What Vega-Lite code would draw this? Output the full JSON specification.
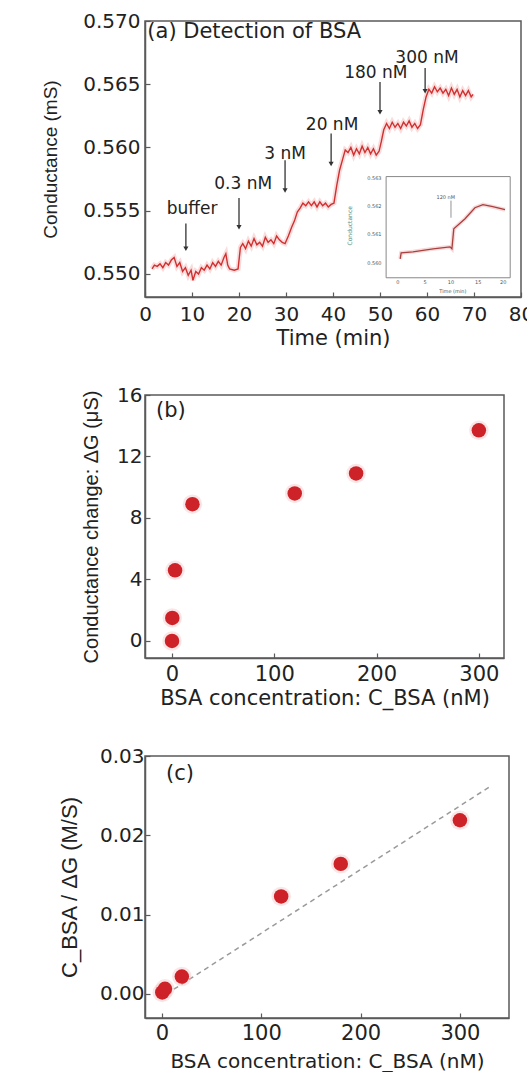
{
  "$schema": "https://vega.github.io/schema/vega-lite/v6.json",
  "background": "white",
  "padding": {"left": 40, "top": 10, "right": 0, "bottom": 0},
  "spacing": 98,
  "bounds": "flush",
  "config": {
    "font": "DejaVu Sans",
    "view": {"stroke": "#5a5a5a", "strokeWidth": 1.5},
    "axis": {
      "grid": false,
      "labelFont": "DejaVu Sans",
      "titleFont": "DejaVu Sans",
      "labelColor": "#222",
      "titleColor": "#222",
      "titleFontWeight": "normal",
      "domainColor": "#5a5a5a",
      "domainWidth": 1.5,
      "tickColor": "#5a5a5a",
      "tickWidth": 1.2,
      "tickSize": -5,
      "labelFlush": false,
      "labelOverlap": false,
      "labelBound": false
    }
  },
  "datasets": {
    "trace": [
      {"t":1.5,"v":0.5504},{"t":2.0,"v":0.5507},{"t":2.6,"v":0.5506},{"t":3.2,"v":0.5508},{"t":3.8,"v":0.5505},
      {"t":4.4,"v":0.5509},{"t":5.0,"v":0.5507},{"t":5.6,"v":0.5511},{"t":6.2,"v":0.5513},{"t":6.8,"v":0.5506},
      {"t":7.4,"v":0.5509},{"t":8.0,"v":0.5502},{"t":8.6,"v":0.5505},{"t":9.2,"v":0.5499},{"t":9.8,"v":0.5503},
      {"t":10.2,"v":0.5495},{"t":10.8,"v":0.5502},{"t":11.4,"v":0.5500},{"t":12.0,"v":0.5505},{"t":12.6,"v":0.5503},
      {"t":13.2,"v":0.5507},{"t":13.8,"v":0.5504},{"t":14.4,"v":0.5509},{"t":15.0,"v":0.5506},{"t":15.6,"v":0.5510},
      {"t":16.2,"v":0.5507},{"t":16.8,"v":0.5513},{"t":17.2,"v":0.5516},{"t":17.6,"v":0.5507},{"t":18.0,"v":0.5504},
      {"t":19.0,"v":0.5503},{"t":19.8,"v":0.5504},{"t":20.3,"v":0.5521},{"t":20.8,"v":0.5524},{"t":21.4,"v":0.5520},
      {"t":22.0,"v":0.5526},{"t":22.6,"v":0.5522},{"t":23.2,"v":0.5528},{"t":23.8,"v":0.5523},{"t":24.4,"v":0.5525},
      {"t":25.0,"v":0.5522},{"t":25.6,"v":0.5529},{"t":26.2,"v":0.5525},{"t":26.8,"v":0.5527},{"t":27.4,"v":0.5524},
      {"t":28.0,"v":0.5530},{"t":28.6,"v":0.5527},{"t":29.2,"v":0.5525},{"t":29.8,"v":0.5524},{"t":30.5,"v":0.5530},
      {"t":31.2,"v":0.5537},{"t":31.8,"v":0.5542},{"t":32.4,"v":0.5549},{"t":33.0,"v":0.5552},{"t":33.6,"v":0.5556},
      {"t":34.2,"v":0.5554},{"t":34.8,"v":0.5557},{"t":35.4,"v":0.5554},{"t":36.0,"v":0.5557},{"t":36.6,"v":0.5553},
      {"t":37.2,"v":0.5557},{"t":37.8,"v":0.5554},{"t":38.4,"v":0.5556},{"t":39.0,"v":0.5553},{"t":39.6,"v":0.5555},
      {"t":40.2,"v":0.5556},{"t":40.8,"v":0.5570},{"t":41.4,"v":0.5582},{"t":42.0,"v":0.5590},{"t":42.6,"v":0.5598},
      {"t":43.2,"v":0.5596},{"t":43.8,"v":0.5600},{"t":44.4,"v":0.5594},{"t":45.0,"v":0.5599},{"t":45.6,"v":0.5595},
      {"t":46.2,"v":0.5601},{"t":46.8,"v":0.5596},{"t":47.4,"v":0.5600},{"t":48.0,"v":0.5595},{"t":48.6,"v":0.5599},
      {"t":49.2,"v":0.5594},{"t":49.8,"v":0.5597},{"t":50.3,"v":0.5605},{"t":50.8,"v":0.5614},{"t":51.4,"v":0.5619},
      {"t":52.0,"v":0.5615},{"t":52.6,"v":0.5620},{"t":53.2,"v":0.5616},{"t":53.8,"v":0.5619},{"t":54.4,"v":0.5615},
      {"t":55.0,"v":0.5620},{"t":55.6,"v":0.5617},{"t":56.2,"v":0.5621},{"t":56.8,"v":0.5616},{"t":57.4,"v":0.5619},
      {"t":58.0,"v":0.5615},{"t":58.6,"v":0.5618},{"t":59.2,"v":0.5630},{"t":59.8,"v":0.5640},{"t":60.4,"v":0.5646},
      {"t":61.0,"v":0.5643},{"t":61.6,"v":0.5648},{"t":62.2,"v":0.5644},{"t":62.8,"v":0.5647},{"t":63.4,"v":0.5643},
      {"t":64.0,"v":0.5646},{"t":64.6,"v":0.5641},{"t":65.2,"v":0.5647},{"t":65.8,"v":0.5642},{"t":66.4,"v":0.5646},
      {"t":67.0,"v":0.5640},{"t":67.6,"v":0.5645},{"t":68.2,"v":0.5641},{"t":68.8,"v":0.5645},{"t":69.4,"v":0.5640},
      {"t":69.8,"v":0.5642}
    ],
    "arrows": [
      {"t":8.7,"v":0.5540,"v2":0.5520},
      {"t":20.0,"v":0.5560,"v2":0.5537},
      {"t":29.8,"v":0.5590,"v2":0.5566},
      {"t":39.6,"v":0.5611,"v2":0.5587},
      {"t":50.0,"v":0.56517,"v2":0.56278},
      {"t":59.6,"v":0.56628,"v2":0.56445}
    ],
    "heads": [
      {"t":8.7,"v":0.5520},{"t":20.0,"v":0.5537},{"t":29.8,"v":0.5566},
      {"t":39.6,"v":0.5587},{"t":50.0,"v":0.56278},{"t":59.6,"v":0.56445}
    ],
    "alabels": [
      {"t":10.0,"v":0.55516,"label":"buffer"},
      {"t":20.9,"v":0.55715,"label":"0.3 nM"},
      {"t":29.8,"v":0.55945,"label":"3 nM"},
      {"t":39.8,"v":0.56175,"label":"20 nM"},
      {"t":49.1,"v":0.56586,"label":"180 nM"},
      {"t":60.0,"v":0.56705,"label":"300 nM"}
    ],
    "atitle": [{"t":0.5,"v":0.56913,"label":"(a) Detection of BSA"}],
    "inset_frame": [{"t":51.3,"t2":77.7,"v":0.5497,"v2":0.5577}],
    "inset_curve": [
      {"t":54.3,"v":0.55119},{"t":54.5,"v":0.55167},{"t":57.0,"v":0.55175},{"t":61.3,"v":0.55199},
      {"t":64.9,"v":0.55214},{"t":65.3,"v":0.55199},{"t":65.7,"v":0.55357},{"t":68.1,"v":0.55437},
      {"t":70.2,"v":0.55524},{"t":71.9,"v":0.55548},{"t":74.0,"v":0.55532},{"t":76.6,"v":0.55508}
    ],
    "inset_arrow": [{"t":65.1,"v":0.55580,"v2":0.55445}],
    "inset_text": [
      {"t":64.0,"v":0.55610,"label":"120 nM"},
      {"t":53.8,"v":0.54935,"label":"0"},
      {"t":59.6,"v":0.54935,"label":"5"},
      {"t":65.1,"v":0.54935,"label":"10"},
      {"t":70.9,"v":0.54935,"label":"15"},
      {"t":76.2,"v":0.54935,"label":"20"},
      {"t":65.5,"v":0.54868,"label":"Time (min)"},
      {"t":48.8,"v":0.55762,"label":"0.563"},
      {"t":48.8,"v":0.55540,"label":"0.562"},
      {"t":48.8,"v":0.55318,"label":"0.561"},
      {"t":48.8,"v":0.55087,"label":"0.560"}
    ],
    "inset_ytitle": [{"t":43.6,"v":0.55381,"label":"Conductance"}],
    "bpoints": [
      {"c":0,"g":0.0},{"c":0.3,"g":1.5},{"c":3,"g":4.6},{"c":20,"g":8.9},
      {"c":120,"g":9.6},{"c":180,"g":10.9},{"c":300,"g":13.7}
    ],
    "btext": [{"c":-15.6,"g":14.96,"label":"(b)"}],
    "cpoints": [
      {"c":0.3,"r":0.0002},{"c":3,"r":0.00065},{"c":20,"r":0.0022},
      {"c":120,"r":0.0123},{"c":180,"r":0.0164},{"c":300,"r":0.0219}
    ],
    "cfit": [{"c":12,"r":0.0006},{"c":331,"r":0.0262}],
    "ctext": [{"c":4,"r":0.02773,"label":"(c)"}]
  },
  "vconcat": [
    {
      "width": 376,
      "height": 276,
      "encoding": {
        "x": {"field": "t", "type": "quantitative",
          "scale": {"domain": [0, 80], "nice": false, "zero": false},
          "axis": {"values": [0,10,20,30,40,50,60,70,80], "format": "d", "labelFontSize": 20, "labelPadding": 12,
            "title": "Time (min)", "titleFontSize": 21, "minExtent": 20, "maxExtent": 20, "titlePadding": 10}},
        "y": {"field": "v", "type": "quantitative",
          "scale": {"domain": [0.54818, 0.570], "nice": false, "zero": false},
          "axis": {"values": [0.55,0.555,0.56,0.565,0.57], "format": ".3f", "labelFontSize": 20, "labelPadding": 10,
            "title": "Conductance (mS)", "titleFont": "Liberation Sans", "titleFontSize": 19,
            "minExtent": 80, "maxExtent": 80, "titlePadding": 5}}
      },
      "layer": [
        {"data": {"name": "trace"}, "mark": {"type": "line", "color": "#f6c4c4", "strokeWidth": 5, "opacity": 0.6}},
        {"data": {"name": "trace"}, "mark": {"type": "line", "color": "#d03030", "strokeWidth": 1.4}},
        {"data": {"name": "inset_frame"}, "mark": {"type": "rect", "fill": "white", "stroke": "#888", "strokeWidth": 1},
          "encoding": {"x2": {"field": "t2"}, "y2": {"field": "v2"}}},
        {"data": {"name": "inset_curve"}, "mark": {"type": "line", "color": "#f2c0c0", "strokeWidth": 4, "opacity": 0.6}},
        {"data": {"name": "inset_curve"}, "mark": {"type": "line", "color": "#a84040", "strokeWidth": 1.3}},
        {"data": {"name": "inset_arrow"}, "mark": {"type": "rule", "color": "#777", "strokeWidth": 0.8},
          "encoding": {"y2": {"field": "v2"}}},
        {"data": {"name": "inset_text"}, "mark": {"type": "text", "fontSize": 5, "color": "#555", "align": "center", "baseline": "middle"},
          "encoding": {"text": {"field": "label"}}},
        {"data": {"name": "inset_ytitle"}, "mark": {"type": "text", "fontSize": 6, "color": "#4a8a80", "angle": 270, "align": "center", "baseline": "middle"},
          "encoding": {"text": {"field": "label"}}},
        {"data": {"name": "arrows"}, "mark": {"type": "rule", "color": "#333", "strokeWidth": 1.3},
          "encoding": {"y2": {"field": "v2"}}},
        {"data": {"name": "heads"}, "mark": {"type": "point", "shape": "triangle-down", "filled": true, "color": "#333", "size": 26, "opacity": 1}},
        {"data": {"name": "alabels"}, "mark": {"type": "text", "fontSize": 17, "color": "#222", "align": "center", "baseline": "middle"},
          "encoding": {"text": {"field": "label"}}},
        {"data": {"name": "atitle"}, "mark": {"type": "text", "fontSize": 21, "color": "#222", "align": "left", "baseline": "middle"},
          "encoding": {"text": {"field": "label"}}}
      ]
    },
    {
      "width": 359,
      "height": 263,
      "encoding": {
        "x": {"field": "c", "type": "quantitative",
          "scale": {"domain": [-26.4, 324.6], "nice": false, "zero": false},
          "axis": {"values": [0,100,200,300], "format": "d", "labelFontSize": 21, "labelPadding": 10,
            "title": "BSA concentration: C_BSA (nM)", "titleFontSize": 21, "minExtent": 26, "maxExtent": 26, "titlePadding": 3}},
        "y": {"field": "g", "type": "quantitative",
          "scale": {"domain": [-1.106, 16], "nice": false, "zero": false},
          "axis": {"values": [0,4,8,12,16], "format": "d", "labelFontSize": 20, "labelPadding": 8,
            "title": "Conductance change: ΔG (μS)", "titleFont": "Liberation Sans", "titleFontSize": 20,
            "minExtent": 40, "maxExtent": 40, "titlePadding": 4}}
      },
      "layer": [
        {"data": {"name": "bpoints"}, "mark": {"type": "circle", "color": "#f2b8b8", "size": 380, "opacity": 0.35}},
        {"data": {"name": "bpoints"}, "mark": {"type": "circle", "color": "#cd2227", "size": 210, "opacity": 1}},
        {"data": {"name": "btext"}, "mark": {"type": "text", "fontSize": 21, "color": "#222", "align": "left", "baseline": "middle"},
          "encoding": {"text": {"field": "label"}}}
      ]
    },
    {
      "width": 364,
      "height": 262,
      "encoding": {
        "x": {"field": "c", "type": "quantitative",
          "scale": {"domain": [-17.1, 349.4], "nice": false, "zero": false},
          "axis": {"values": [0,100,200,300], "format": "d", "labelFontSize": 21, "labelPadding": 9,
            "title": "BSA concentration: C_BSA (nM)", "titleFontSize": 20, "minExtent": 33, "maxExtent": 33, "titlePadding": 0}},
        "y": {"field": "r", "type": "quantitative",
          "scale": {"domain": [-0.00303, 0.03], "nice": false, "zero": false},
          "axis": {"values": [0,0.01,0.02,0.03], "format": ".2f", "labelFontSize": 20, "labelPadding": 6,
            "title": "C_BSA / ΔG (M/S)", "titleFont": "Liberation Sans", "titleFontSize": 22,
            "minExtent": 60, "maxExtent": 60, "titlePadding": 4}}
      },
      "layer": [
        {"data": {"name": "cfit"}, "mark": {"type": "line", "color": "#9a9a9a", "strokeWidth": 1.5, "strokeDash": [5, 4]}},
        {"data": {"name": "cpoints"}, "mark": {"type": "circle", "color": "#f2b8b8", "size": 380, "opacity": 0.35}},
        {"data": {"name": "cpoints"}, "mark": {"type": "circle", "color": "#cd2227", "size": 210, "opacity": 1}},
        {"data": {"name": "ctext"}, "mark": {"type": "text", "fontSize": 21, "color": "#222", "align": "left", "baseline": "middle"},
          "encoding": {"text": {"field": "label"}}}
      ]
    }
  ]
}
